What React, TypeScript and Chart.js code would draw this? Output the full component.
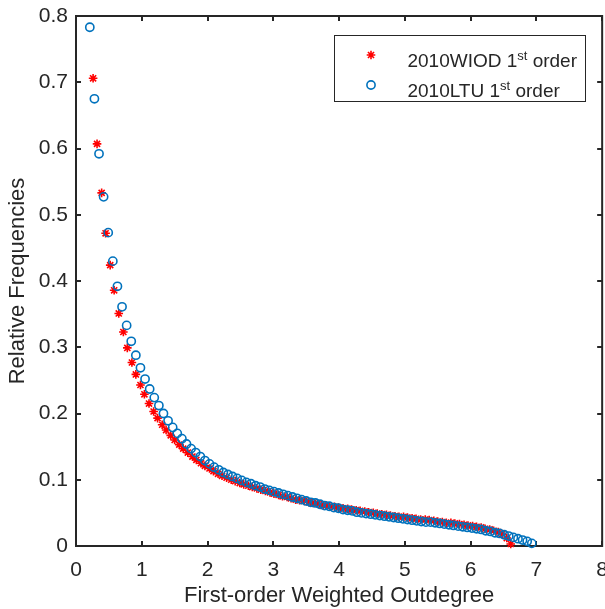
import React, { useEffect, useRef } from "react";
import { Chart, registerables } from "chart.js";

Chart.register(...registerables);

// ---------- data ----------
const WIOD_X = [
  0.26, 0.32, 0.39, 0.45, 0.52, 0.58, 0.65, 0.72, 0.78, 0.85,
  0.91, 0.98, 1.04, 1.11, 1.18, 1.24, 1.31, 1.37, 1.44, 1.50,
  1.57, 1.63, 1.70, 1.77, 1.83, 1.90, 1.96, 2.03, 2.09, 2.16,
  2.22, 2.29, 2.36, 2.42, 2.49, 2.55, 2.62, 2.68, 2.75, 2.81,
  2.88, 2.95, 3.01, 3.08, 3.14, 3.21, 3.27, 3.34, 3.40, 3.47,
  3.54, 3.60, 3.67, 3.73, 3.80, 3.86, 3.93, 3.99, 4.06, 4.13,
  4.19, 4.26, 4.32, 4.39, 4.45, 4.52, 4.58, 4.65, 4.72, 4.78,
  4.85, 4.91, 4.98, 5.04, 5.11, 5.17, 5.24, 5.31, 5.37, 5.44,
  5.50, 5.57, 5.63, 5.70, 5.76, 5.83, 5.90, 5.96, 6.03, 6.09,
  6.16, 6.22, 6.29, 6.35, 6.42, 6.48, 6.55, 6.61,
];
const WIOD_Y = [
  0.706, 0.607, 0.533, 0.472, 0.424, 0.386, 0.351, 0.323, 0.299, 0.277,
  0.259, 0.243, 0.229, 0.215, 0.203, 0.193, 0.183, 0.175, 0.167, 0.160,
  0.153, 0.147, 0.141, 0.135, 0.130, 0.125, 0.121, 0.117, 0.113, 0.109,
  0.106, 0.103, 0.100, 0.098, 0.095, 0.093, 0.091, 0.089, 0.087, 0.085,
  0.083, 0.081, 0.079, 0.077, 0.075, 0.074, 0.072, 0.070, 0.069, 0.068,
  0.066, 0.065, 0.064, 0.062, 0.061, 0.060, 0.059, 0.058, 0.057, 0.056,
  0.055, 0.054, 0.053, 0.052, 0.051, 0.050, 0.049, 0.048, 0.047, 0.046,
  0.045, 0.044, 0.044, 0.043, 0.042, 0.041, 0.040, 0.040, 0.039, 0.038,
  0.037, 0.036, 0.035, 0.035, 0.034, 0.033, 0.032, 0.031, 0.030, 0.029,
  0.028, 0.026, 0.025, 0.023, 0.021, 0.018, 0.012, 0.003,
];
const LTU_X = [
  0.21, 0.28, 0.35, 0.42, 0.49, 0.56, 0.63, 0.70, 0.77, 0.84,
  0.91, 0.98, 1.05, 1.12, 1.19, 1.26, 1.33, 1.40, 1.47, 1.54,
  1.61, 1.68, 1.75, 1.82, 1.89, 1.96, 2.03, 2.10, 2.17, 2.24,
  2.31, 2.38, 2.45, 2.52, 2.59, 2.66, 2.73, 2.80, 2.87, 2.94,
  3.01, 3.08, 3.15, 3.22, 3.29, 3.36, 3.43, 3.50, 3.57, 3.64,
  3.71, 3.78, 3.85, 3.92, 3.99, 4.06, 4.13, 4.20, 4.27, 4.34,
  4.41, 4.48, 4.55, 4.62, 4.69, 4.76, 4.83, 4.90, 4.97, 5.04,
  5.11, 5.18, 5.25, 5.32, 5.39, 5.46, 5.53, 5.60, 5.67, 5.74,
  5.81, 5.88, 5.95, 6.02, 6.09, 6.16, 6.23, 6.30, 6.37, 6.44,
  6.51, 6.58, 6.65, 6.72, 6.79, 6.86, 6.93,
];
const LTU_Y = [
  0.783, 0.675, 0.592, 0.527, 0.473, 0.430, 0.392, 0.361, 0.333, 0.309,
  0.288, 0.269, 0.252, 0.237, 0.224, 0.212, 0.200, 0.189, 0.179, 0.170,
  0.162, 0.154, 0.147, 0.141, 0.135, 0.129, 0.124, 0.119, 0.115, 0.111,
  0.108, 0.105, 0.102, 0.099, 0.096, 0.094, 0.091, 0.089, 0.086, 0.084,
  0.082, 0.080, 0.078, 0.076, 0.074, 0.072, 0.070, 0.068, 0.066, 0.065,
  0.063, 0.061, 0.060, 0.058, 0.057, 0.055, 0.054, 0.053, 0.051, 0.050,
  0.049, 0.048, 0.047, 0.046, 0.045, 0.044, 0.043, 0.042, 0.041, 0.040,
  0.039, 0.038, 0.037, 0.036, 0.036, 0.035, 0.034, 0.033, 0.032, 0.031,
  0.030, 0.029, 0.028, 0.027, 0.026, 0.025, 0.023, 0.022, 0.020, 0.019,
  0.017, 0.015, 0.013, 0.011, 0.009, 0.007, 0.004,
];

const X_TICKS = [0, 1, 2, 3, 4, 5, 6, 7, 8];
const Y_TICKS = [0, 0.1, 0.2, 0.3, 0.4, 0.5, 0.6, 0.7, 0.8];
const Y_TICK_LABELS = ["0", "0.1", "0.2", "0.3", "0.4", "0.5", "0.6", "0.7", "0.8"];
const X_TICK_LABELS = ["0", "1", "2", "3", "4", "5", "6", "7", "8"];

const SERIES_LABEL_BASE = ["2010WIOD 1", "2010LTU 1"];
const SERIES_LABEL_SUP = "st";
const SERIES_LABEL_TAIL = " order";
const X_TITLE = "First-order Weighted Outdegree";
const Y_TITLE = "Relative Frequencies";

// ---------- style ----------
const AXIS_COLOR = "#262626";
const FONT_FAMILY = '"Liberation Sans", Arial, Helvetica, sans-serif';
const RED = "#ff0000";
const BLUE = "#0072bd";
const W = 605;
const H = 609;
const CANVAS_W = 620;

function drawMarker(ctx: CanvasRenderingContext2D, style: string, x: number, y: number, r: number, color: string, lw: number) {
  ctx.save();
  ctx.strokeStyle = color;
  ctx.lineWidth = lw;
  ctx.beginPath();
  if (style === "star") {
    const d = Math.cos(Math.PI / 4) * r;
    ctx.moveTo(x - r, y); ctx.lineTo(x + r, y);
    ctx.moveTo(x, y - r); ctx.lineTo(x, y + r);
    ctx.moveTo(x - d, y - d); ctx.lineTo(x + d, y + d);
    ctx.moveTo(x - d, y + d); ctx.lineTo(x + d, y - d);
  } else {
    ctx.arc(x, y, r, 0, Math.PI * 2);
  }
  ctx.stroke();
  ctx.restore();
}

const boxPlugin = {
  id: "matlabBox",
  beforeDatasetsDraw(chart: any) {
    const { ctx, chartArea: a, scales } = chart;
    const xs = scales.x;
    const ys = scales.y;
    const tl = 5;
    ctx.save();
    ctx.strokeStyle = AXIS_COLOR;
    ctx.lineWidth = 2;
    ctx.beginPath();
    X_TICKS.forEach((v) => {
      const px = Math.round(xs.getPixelForValue(v));
      ctx.moveTo(px, a.bottom); ctx.lineTo(px, a.bottom - tl);
      ctx.moveTo(px, a.top); ctx.lineTo(px, a.top + tl);
    });
    Y_TICKS.forEach((v) => {
      const py = Math.round(ys.getPixelForValue(v));
      ctx.moveTo(a.left, py); ctx.lineTo(a.left + tl, py);
      ctx.moveTo(a.right, py); ctx.lineTo(a.right - tl, py);
    });
    ctx.stroke();
    ctx.strokeRect(a.left, a.top, a.right - a.left, a.bottom - a.top);
    ctx.restore();
  },
};

const legendPlugin = {
  id: "matlabLegend",
  afterDraw(chart: any) {
    const { ctx, chartArea: a } = chart;
    const mainFont = `19px ${FONT_FAMILY}`;
    const supFont = `13px ${FONT_FAMILY}`;
    ctx.save();
    const widths = SERIES_LABEL_BASE.map((b) => {
      ctx.font = mainFont;
      const w1 = ctx.measureText(b).width;
      const w3 = ctx.measureText(SERIES_LABEL_TAIL).width;
      ctx.font = supFont;
      const w2 = ctx.measureText(SERIES_LABEL_SUP).width;
      return w1 + w2 + w3;
    });
    const textW = Math.max(...widths);
    const right = Math.round(a.right - 17);
    const textLeft = right - 8 - textW;
    const left = Math.round(textLeft - 73);
    const top = Math.round(a.top + 19);
    const h = 66;
    ctx.fillStyle = "#ffffff";
    ctx.fillRect(left, top, right - left, h);
    ctx.strokeStyle = AXIS_COLOR;
    ctx.lineWidth = 1;
    ctx.strokeRect(left + 0.5, top + 0.5, right - left, h);

    chart.data.datasets.forEach((ds: any, i: number) => {
      const cy = top + 25 + i * 30;
      drawMarker(ctx, ds.pointStyle, left + 37, cy - 5, ds.pointRadius, ds.borderColor, ds.borderWidth);
      ctx.fillStyle = AXIS_COLOR;
      ctx.textBaseline = "alphabetic";
      ctx.textAlign = "left";
      const base = cy + 7;
      ctx.font = mainFont;
      ctx.fillText(SERIES_LABEL_BASE[i], textLeft, base);
      let x = textLeft + ctx.measureText(SERIES_LABEL_BASE[i]).width;
      ctx.font = supFont;
      ctx.fillText(SERIES_LABEL_SUP, x, base - 7);
      x += ctx.measureText(SERIES_LABEL_SUP).width;
      ctx.font = mainFont;
      ctx.fillText(SERIES_LABEL_TAIL, x, base);
    });
    ctx.restore();
  },
};

export default function App() {
  const ref = useRef<HTMLCanvasElement | null>(null);

  useEffect(() => {
    if (!ref.current) return;
    const wiod = WIOD_X.map((x, i) => ({ x, y: WIOD_Y[i] }));
    const ltu = LTU_X.map((x, i) => ({ x, y: LTU_Y[i] }));
    const chart = new Chart(ref.current, {
      type: "scatter",
      data: {
        datasets: [
          {
            label: "2010WIOD 1st order",
            data: wiod,
            pointStyle: "star",
            pointRadius: 4.3,
            borderColor: RED,
            backgroundColor: RED,
            borderWidth: 1.6,
            order: 1,
            clip: false,
          } as any,
          {
            label: "2010LTU 1st order",
            data: ltu,
            pointStyle: "circle",
            pointRadius: 4.1,
            borderColor: BLUE,
            backgroundColor: "rgba(0,0,0,0)",
            borderWidth: 1.6,
            order: 0,
            clip: false,
          } as any,
        ],
      },
      options: {
        responsive: false,
        animation: false,
        events: [],
        layout: { padding: { top: 16, right: 14, bottom: 0, left: 0 } },
        plugins: {
          legend: { display: false },
          tooltip: { enabled: false },
        },
        scales: {
          x: {
            type: "linear",
            min: 0,
            max: 8,
            afterBuildTicks: (s: any) => {
              s.ticks = X_TICKS.map((v) => ({ value: v }));
            },
            afterFit: (s: any) => {
              s.height = H - 546;
            },
            grid: { display: false, drawTicks: false },
            border: { display: false },
            ticks: {
              color: AXIS_COLOR,
              font: { family: FONT_FAMILY, size: 21 },
              padding: 12,
              maxRotation: 0,
              callback: (v: any) => X_TICK_LABELS[X_TICKS.indexOf(Number(v))] ?? "",
            },
            title: {
              display: true,
              text: X_TITLE,
              color: AXIS_COLOR,
              font: { family: FONT_FAMILY, size: 22 },
              padding: { top: 0, bottom: 0 },
            },
          },
          y: {
            type: "linear",
            min: 0,
            max: 0.8,
            afterBuildTicks: (s: any) => {
              s.ticks = Y_TICKS.map((v) => ({ value: v }));
            },
            afterFit: (s: any) => {
              s.width = 76;
            },
            grid: { display: false, drawTicks: false },
            border: { display: false },
            ticks: {
              color: AXIS_COLOR,
              font: { family: FONT_FAMILY, size: 21, lineHeight: 0.7 },
              padding: 8,
              callback: (v: any) => {
                const idx = Y_TICKS.findIndex((t) => Math.abs(t - Number(v)) < 1e-9);
                return idx >= 0 ? Y_TICK_LABELS[idx] : "";
              },
            },
            title: {
              display: true,
              text: Y_TITLE,
              color: AXIS_COLOR,
              font: { family: FONT_FAMILY, size: 22 },
              padding: { top: 5, bottom: 0 },
            },
          },
        },
      },
      plugins: [boxPlugin, legendPlugin],
    });
    return () => chart.destroy();
  }, []);

  return (
    <div style={{ position: "fixed", left: 0, top: 0, width: W, height: H, overflow: "hidden", background: "#fff" }}>
      <canvas ref={ref} width={CANVAS_W} height={H} style={{ width: CANVAS_W, height: H, display: "block" }} />
    </div>
  );
}
